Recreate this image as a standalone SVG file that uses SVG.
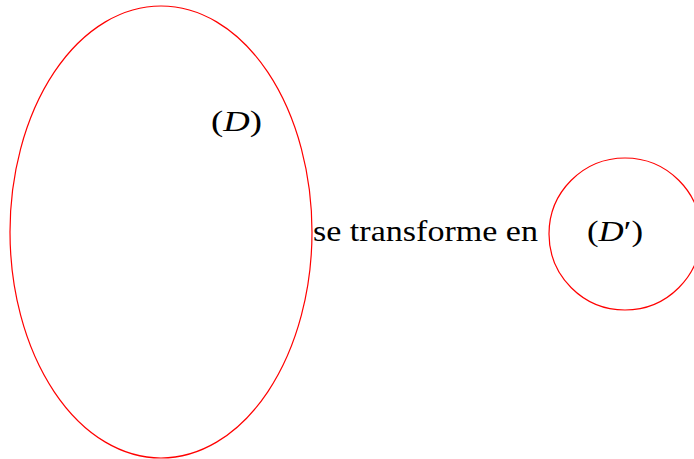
<svg xmlns="http://www.w3.org/2000/svg" width="694" height="459" viewBox="0 0 694 459">
<style>
.shape{fill:none;stroke:#ff0000;stroke-width:1.2}
.t{font-family:'Liberation Serif','Times New Roman',serif;font-size:30px;fill:#000}
.i{font-style:italic}
</style>
<rect width="694" height="459" fill="#fff"/>
<g id="D">
<ellipse class="shape" cx="161" cy="232" rx="151" ry="226"/>
<text class="t" x="211" y="131" textLength="51" lengthAdjust="spacingAndGlyphs">(<tspan class="i">D</tspan>)</text>
</g>
<g id="Dprime">
<circle class="shape" cx="625" cy="234" r="76"/>
<text class="t" x="587" y="241" textLength="56" lengthAdjust="spacingAndGlyphs">(<tspan class="i">D</tspan>′)</text>
</g>
<g id="connectors">
<text class="t" x="313" y="241" textLength="225" lengthAdjust="spacingAndGlyphs">se transforme en</text>
</g>
</svg>
